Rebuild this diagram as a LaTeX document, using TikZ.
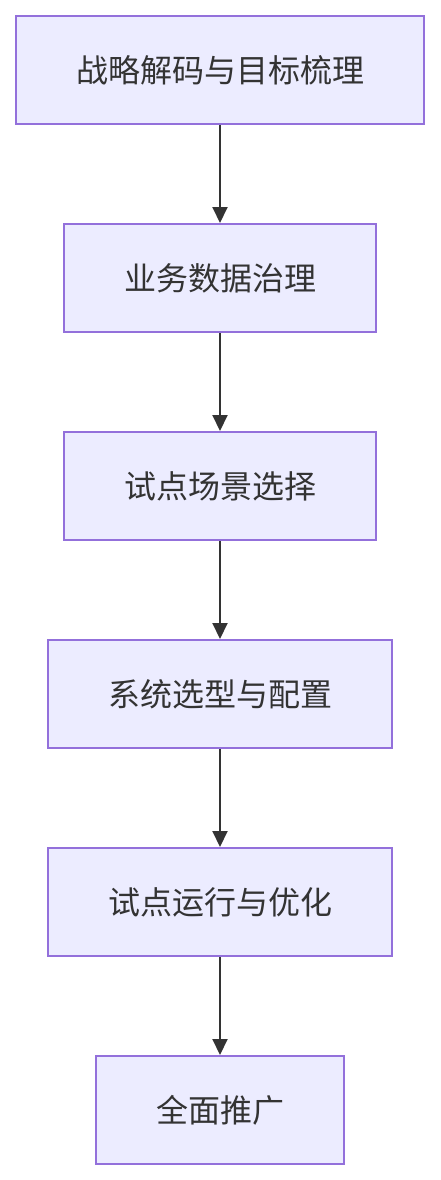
\documentclass[tikz,border=0pt]{standalone}
\usepackage{fontspec}
\newfontfamily\cjk{Noto Sans CJK SC}
\usetikzlibrary{arrows.meta}
\definecolor{ink}{HTML}{333333}
\definecolor{lilac}{HTML}{ECECFF}
\definecolor{violet}{HTML}{9370DB}

\begin{document}
\begin{tikzpicture}[x=1pt, y=-1pt, font=\cjk\fontsize{32}{38}\selectfont, text=ink,
  stage/.style={draw=violet, fill=lilac, line width=2pt, inner sep=0pt, minimum height=108pt},
  flow/.style={draw=ink, line width=2pt, -{Triangle[length=16pt,width=15pt]}}]
  \useasboundingbox (0,0) rectangle (440,1180);

  \node[stage, minimum width=408pt] (decode) at (220,70) {战略解码与目标梳理};
  \node[stage, minimum width=312pt] (data) at (220,278) {业务数据治理};
  \node[stage, minimum width=312pt] (pilot) at (220,486) {试点场景选择};
  \node[stage, minimum width=344pt] (system) at (220,694) {系统选型与配置};
  \node[stage, minimum width=344pt] (run) at (220,902) {试点运行与优化};
  \node[stage, minimum width=248pt] (rollout) at (220,1110) {全面推广};

  \draw[flow] (decode) -- (data);
  \draw[flow] (data) -- (pilot);
  \draw[flow] (pilot) -- (system);
  \draw[flow] (system) -- (run);
  \draw[flow] (run) -- (rollout);
\end{tikzpicture}
\end{document}
